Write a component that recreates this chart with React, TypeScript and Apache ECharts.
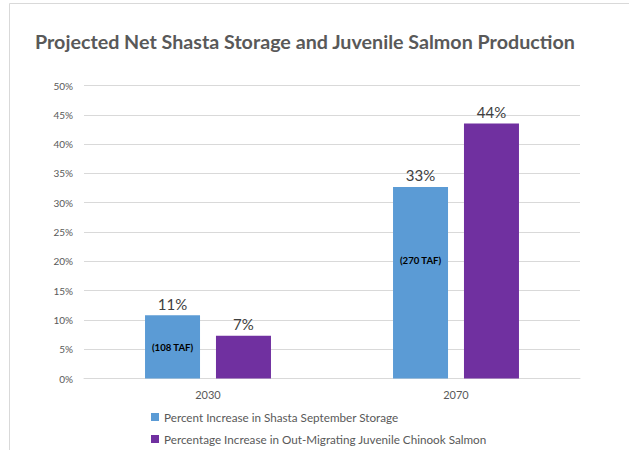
import React, { useEffect, useRef } from "react";
import * as echarts from "echarts";

const categories = ["2030", "2070"];
const storageIncrease = [10.8, 32.7];
const salmonIncrease = [7.3, 43.5];
const storageLabels = ["11%", "33%"];
const salmonLabels = ["7%", "44%"];
const tafNotes = ["(108 TAF)", "(270 TAF)"];
const tafNoteLevels = [5.3, 20.1];
const seriesNames = [
  "Percent Increase in Shasta September Storage",
  "Percentage Increase in Out-Migrating Juvenile Chinook Salmon",
];

const FONT = "Lato, 'Open Sans', sans-serif";

const legendBase = {
  left: 151,
  itemWidth: 8,
  itemHeight: 8,
  icon: "rect",
  padding: 0,
  textStyle: { fontFamily: FONT, fontSize: 11.7, color: "#595959" },
};

export default function App() {
  const ref = useRef<HTMLDivElement>(null);
  useEffect(() => {
    if (!ref.current) return;
    const chart = echarts.init(ref.current, undefined, { renderer: "svg" });
    chart.setOption({
      animation: false,
      backgroundColor: "#ffffff",
      textStyle: { fontFamily: FONT },
      title: {
        text: "Projected Net Shasta Storage and Juvenile Salmon Production",
        left: 30,
        top: 26,
        textStyle: { fontFamily: FONT, fontSize: 19.7, fontWeight: "bold", color: "#595959" },
      },
      graphic: [
        {
          type: "rect",
          shape: { x: 9.5, y: 3.5, width: 700, height: 500 },
          style: { fill: "none", stroke: "#d9d9d9", lineWidth: 1 },
          silent: true,
        },
      ],
      legend: [
        { ...legendBase, top: 411, data: [seriesNames[0]] },
        { ...legendBase, top: 433, data: [seriesNames[1]] },
      ],
      grid: { left: 84, right: 49, top: 85.5, bottom: 71.5, containLabel: false },
      xAxis: {
        type: "category",
        data: categories,
        axisLine: { lineStyle: { color: "#d9d9d9" } },
        axisTick: { show: false },
        axisLabel: { fontFamily: FONT, fontSize: 11, color: "#595959", margin: 10 },
      },
      yAxis: {
        type: "value",
        min: 0,
        max: 50,
        interval: 5,
        axisLine: { show: false },
        axisTick: { show: false },
        splitLine: { lineStyle: { color: "#d9d9d9" } },
        axisLabel: {
          fontFamily: FONT,
          fontSize: 10,
          color: "#595959",
          margin: 11,
          formatter: (v: number) => v + "%",
        },
      },
      series: [
        {
          name: seriesNames[0],
          type: "bar",
          data: storageIncrease,
          barWidth: 55,
          barGap: "29%",
          itemStyle: { color: "#5b9bd5" },
          label: {
            show: true,
            position: "top",
            distance: 4,
            fontFamily: FONT,
            fontSize: 15,
            color: "#404040",
            formatter: (p: any) => storageLabels[p.dataIndex],
          },
          markPoint: {
            symbol: "rect",
            symbolSize: 2,
            silent: true,
            itemStyle: { color: "rgba(0,0,0,0)" },
            label: {
              show: true,
              position: "inside",
              fontFamily: FONT,
              fontSize: 9.6,
              fontWeight: "bold",
              color: "#000000",
            },
            data: categories.map((c, i) => ({
              coord: [i, tafNoteLevels[i]],
              value: tafNotes[i],
              label: { formatter: tafNotes[i] },
            })),
          },
        },
        {
          name: seriesNames[1],
          type: "bar",
          data: salmonIncrease,
          barWidth: 55,
          barGap: "29%",
          itemStyle: { color: "#7030a0" },
          label: {
            show: true,
            position: "top",
            distance: 4,
            fontFamily: FONT,
            fontSize: 15,
            color: "#404040",
            formatter: (p: any) => salmonLabels[p.dataIndex],
          },
        },
      ],
    });
    return () => chart.dispose();
  }, []);
  return (
    <div
      ref={ref}
      style={{ position: "fixed", left: 0, top: 0, width: 629, height: 450 }}
    />
  );
}
